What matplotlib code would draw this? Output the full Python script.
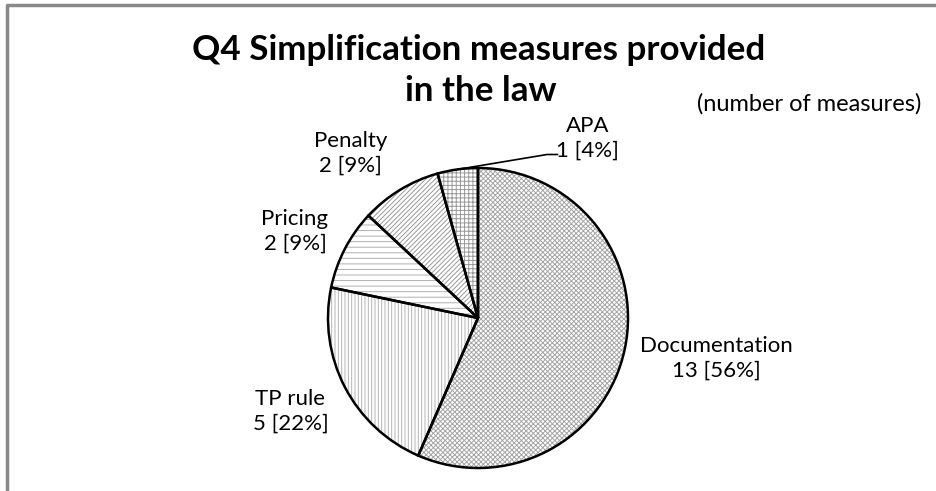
import matplotlib
matplotlib.use("Agg")
import matplotlib.pyplot as plt
import numpy as np

plt.rcParams['font.family'] = ['Lato', 'DejaVu Sans']
plt.rcParams['hatch.linewidth'] = 0.7

categories = ["Documentation", "TP rule", "Pricing", "Penalty", "APA"]
counts = [13, 5, 2, 2, 1]
percent_labels = ["56%", "22%", "9%", "9%", "4%"]

hatches = ["xxxxxxx", "|||||", "---", "///////", "++++"]
hatch_colors = ["#a6a6a6", "#b4b4b4", "#b0b0b0", "#999999", "#999999"]

W, H = 937, 491
fig = plt.figure(figsize=(W / 100, H / 100), dpi=100)
ax = fig.add_axes([0, 0, 1, 1])

cx, cy, R = 478, H - 318, 150

# hatched fill (hatch colour follows edge colour, so edges are drawn by a second pie)
w1, _ = ax.pie(counts, startangle=90, counterclock=False, center=(cx, cy), radius=R,
               colors=["white"] * 5, wedgeprops=dict(linewidth=0))
for w, h, c in zip(w1, hatches, hatch_colors):
    w.set_hatch(h)
    w.set_edgecolor(c)
    w.set_linewidth(0)

w2, _ = ax.pie(counts, startangle=90, counterclock=False, center=(cx, cy), radius=R,
               wedgeprops=dict(fill=False, edgecolor="black", linewidth=1.8))

ax.set_xlim(0, W)
ax.set_ylim(0, H)
ax.set_aspect('auto')
ax.axis('off')

# label centres relative to the pie centre (in radius units)
label_pos = [(1.59, -0.27), (-1.25, -0.62), (-1.22, 0.58), (-0.85, 1.10), (0.73, 1.20)]
for cat, n, p, (lx, ly) in zip(categories, counts, percent_labels, label_pos):
    ax.text(cx + lx * R, cy + ly * R, f"{cat}\n{n} [{p}]", ha='center', va='center',
            fontsize=16, linespacing=1.3)

# leader line for APA
w = w2[4]
mid = np.deg2rad((w.theta1 + w.theta2) / 2)
ax.plot([cx + R * np.cos(mid), cx + 0.46 * R, cx + 0.53 * R],
        [cy + R * np.sin(mid), cy + 1.09 * R, cy + 1.09 * R],
        color="black", linewidth=1.2)

t1 = ax.text(479, H - 60, "Q4 Simplification measures provided", ha='center',
             va='baseline', fontsize=25, fontweight='bold')
t2 = ax.text(481, H - 101, "in the law", ha='center', va='baseline', fontsize=25,
             fontweight='bold')
ax.text(921, H - 111, "(number of measures)", ha='right', va='baseline', fontsize=17)

# fit the title to the width it has in the reference
fig.canvas.draw()
bb = t1.get_window_extent()
scale = 574 / bb.width
t1.set_fontsize(25 * scale)
t2.set_fontsize(25 * scale)

# chart area border
ax.plot([7, 7, W], [0, H - 5, H - 5], color="#888888", linewidth=2.5, clip_on=False)

fig.savefig("out.png", dpi=100)
